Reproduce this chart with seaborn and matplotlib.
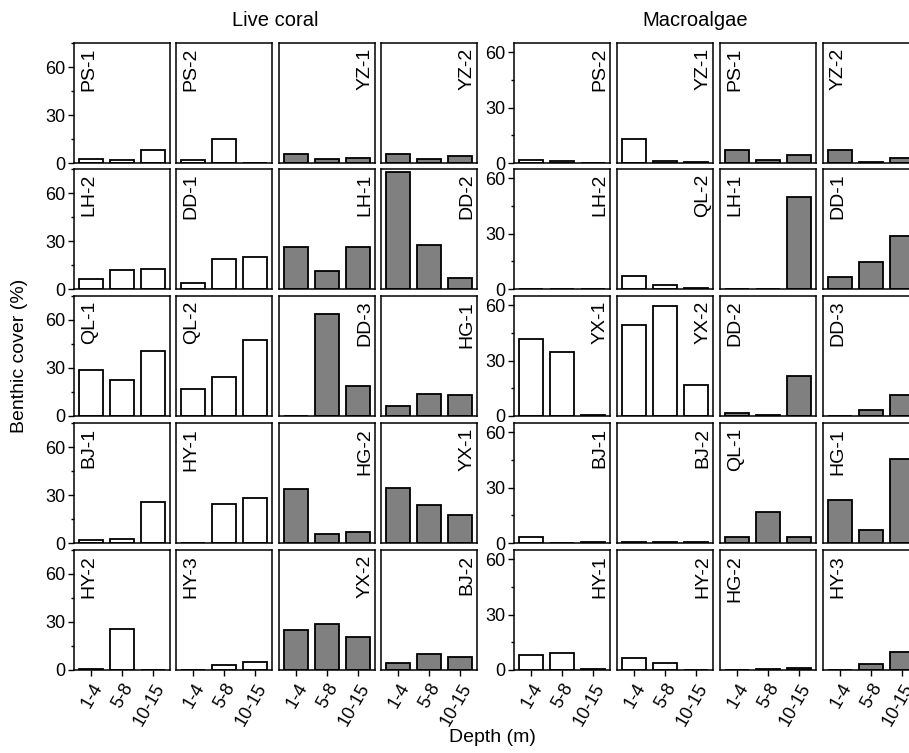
import numpy as np
import pandas as pd
import matplotlib
matplotlib.use("Agg")
import matplotlib.pyplot as plt
from matplotlib.ticker import MultipleLocator
import seaborn as sns

# %%
# data: benthic cover (%) per site and depth range
depth = ["1-4", "5-8", "10-15"]

coral_sites = ["PS-1", "PS-2", "YZ-1", "YZ-2",
               "LH-2", "DD-1", "LH-1", "DD-2",
               "QL-1", "QL-2", "DD-3", "HG-1",
               "BJ-1", "HY-1", "HG-2", "YX-1",
               "HY-2", "HY-3", "YX-2", "BJ-2"]
coral_cover = [[2.5, 2.0, 8.0], [2.0, 15.0, 0.0], [5.5, 2.5, 3.0], [5.5, 2.3, 4.5],
               [6.0, 12.0, 12.5], [4.0, 18.5, 20.0], [26.5, 11.0, 26.0], [73.0, 27.5, 7.0],
               [29.0, 22.5, 40.5], [17.0, 24.5, 47.5], [0.0, 64.0, 18.5], [6.5, 14.0, 13.0],
               [2.0, 2.3, 25.5], [0.3, 24.5, 28.0], [34.0, 5.5, 7.0], [34.5, 23.5, 17.7],
               [0.4, 25.5, 0.0], [0.3, 3.3, 5.3], [25.0, 29.0, 20.7], [4.5, 10.0, 8.0]]

algae_sites = ["PS-2", "YZ-1", "PS-1", "YZ-2",
               "LH-2", "QL-2", "LH-1", "DD-1",
               "YX-1", "YX-2", "DD-2", "DD-3",
               "BJ-1", "BJ-2", "QL-1", "HG-1",
               "HY-1", "HY-2", "HG-2", "HY-3"]
algae_cover = [[1.5, 1.0, 0.0], [13.0, 1.2, 0.8], [7.0, 1.5, 4.5], [7.0, 0.3, 2.5],
               [0.0, 0.0, 0.0], [7.0, 2.0, 0.5], [0.0, 0.0, 50.0], [6.5, 14.5, 28.5],
               [41.5, 34.5, 0.3], [49.5, 59.5, 17.0], [1.8, 0.8, 21.5], [0.0, 3.0, 11.5],
               [3.5, 0.0, 0.3], [0.3, 0.3, 0.3], [3.0, 17.0, 3.0], [23.5, 7.0, 45.5],
               [8.3, 9.0, 0.6], [6.5, 4.0, 0.0], [0.0, 0.3, 1.2], [0.2, 3.3, 10.0]]

def to_long(sites, cover):
    rows = []
    for s, vals in zip(sites, cover):
        for d, v in zip(depth, vals):
            rows.append({"site": s, "depth": d, "cover": v})
    return pd.DataFrame(rows)

coral_df = to_long(coral_sites, coral_cover)
algae_df = to_long(algae_sites, algae_cover)

# %%
# style
sns.set_style("ticks")
plt.rcParams["font.family"] = ["Liberation Sans", "DejaVu Sans"]
plt.rcParams["axes.linewidth"] = 1.1
for key in ["text.color", "axes.labelcolor", "axes.edgecolor", "xtick.color", "ytick.color"]:
    plt.rcParams[key] = "black"

W, H = 909, 753
fig = plt.figure(figsize=(W / 100, H / 100), dpi=100)

row_tops = [43, 169, 296, 423, 550]
panel_h = 120
panel_w = 96
groups = [
    dict(df=coral_df, sites=coral_sites, xs=[74, 176, 279, 381], ymax=75,
         label_left=[True, True, False, False]),
    dict(df=algae_df, sites=algae_sites, xs=[514, 617, 720, 823], ymax=65,
         label_left=[False, False, True, True]),
]

for g in groups:
    for r, top in enumerate(row_tops):
        for c, x0 in enumerate(g["xs"]):
            site = g["sites"][r * 4 + c]
            ax = fig.add_axes([x0 / W, 1 - (top + panel_h) / H, panel_w / W, panel_h / H])
            fill = "white" if c < 2 else "#808080"
            sns.barplot(data=g["df"][g["df"]["site"] == site], x="depth", y="cover",
                        order=depth, color=fill, saturation=1, errorbar=None,
                        edgecolor="black", linewidth=1.3, width=0.78, ax=ax)
            ax.set_xlabel("")
            ax.set_ylabel("")
            ax.set_xlim(-0.54, 2.54)
            ax.set_ylim(0, g["ymax"])
            for sp in ax.spines.values():
                sp.set_visible(True)
                sp.set_linewidth(1.1)
                sp.set_color("black")

            # site label
            if g["label_left"][c]:
                ax.text(0.07, 0.96, site, transform=ax.transAxes, rotation=90,
                        ha="left", va="top", fontsize=14)
            else:
                ax.text(0.98, 0.96, site, transform=ax.transAxes, rotation=90,
                        ha="right", va="top", fontsize=14)

            # y axis only on the first column of each group
            if c == 0:
                ax.yaxis.set_major_locator(MultipleLocator(30))
                ax.yaxis.set_minor_locator(MultipleLocator(15))
                ax.tick_params(axis="y", which="major", direction="out", length=4.5,
                               width=1.0, labelsize=13, pad=2)
                ax.tick_params(axis="y", which="minor", direction="out", length=2.5,
                               width=1.0)
            else:
                ax.set_yticks([])
                ax.yaxis.set_minor_locator(plt.NullLocator())

            # x axis only on the bottom row
            if r == len(row_tops) - 1:
                ax.set_xticks(range(len(depth)))
                ax.set_xticklabels(depth, rotation=60, ha="right", va="top",
                                   rotation_mode="anchor", fontsize=13)
                ax.tick_params(axis="x", direction="out", length=4.5, width=1.0, pad=3)
            else:
                ax.set_xticks([])

fig.text(275 / W, 1 - 21 / H, "Live coral", ha="center", va="center", fontsize=14.5)
fig.text(695 / W, 1 - 21 / H, "Macroalgae", ha="center", va="center", fontsize=14.5)
fig.text(20 / W, 1 - 356 / H, "Benthic cover (%)", rotation=90, ha="center",
         va="center", fontsize=14)
fig.text(492 / W, 1 - 737 / H, "Depth (m)", ha="center", va="center", fontsize=14)

fig.savefig("out.png", dpi=100)
